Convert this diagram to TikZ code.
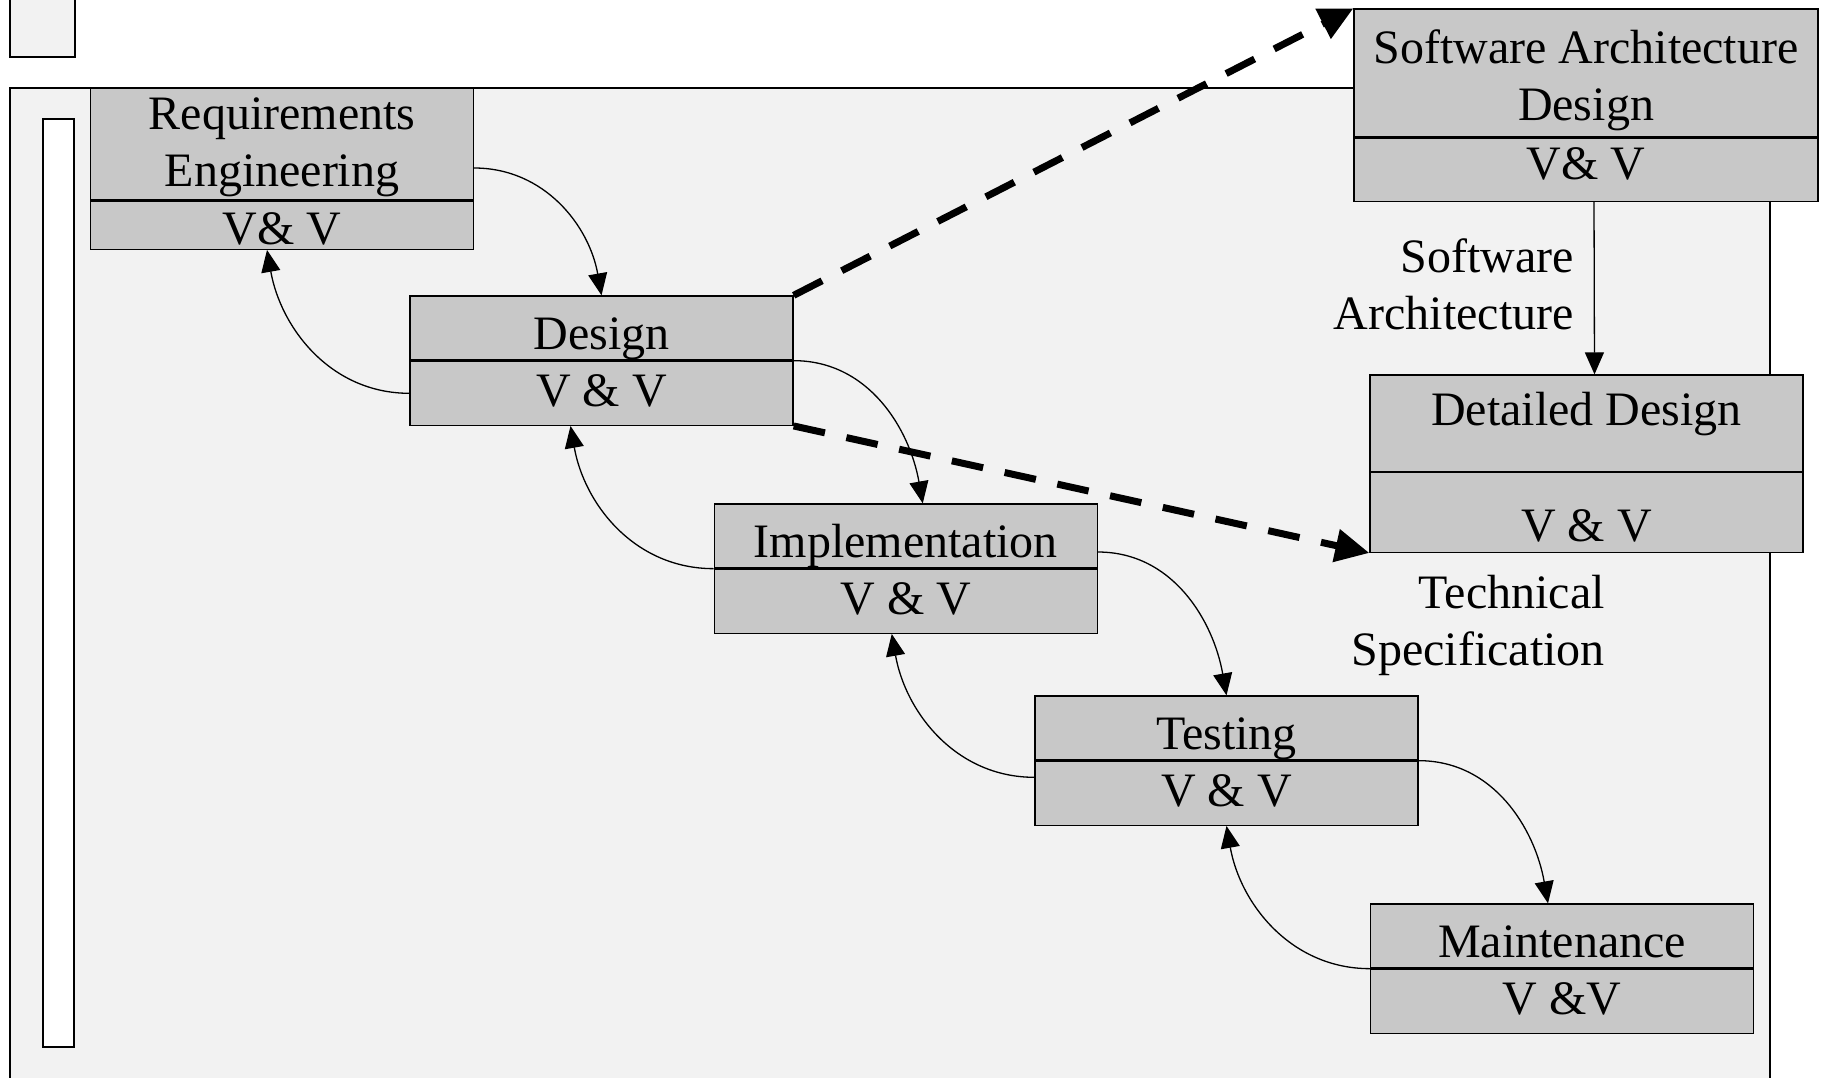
\documentclass[tikz,border=0pt]{standalone}
\usepackage{fontspec}
\setmainfont{Liberation Serif}
\usetikzlibrary{arrows.meta,positioning}

\definecolor{boxgray}{RGB}{200,200,200}
\definecolor{paper}{RGB}{242,242,242}

\begin{document}
\begin{tikzpicture}[x=1pt,y=1pt,font=\fontsize{48}{57}\selectfont,
  phase/.style={draw,fill=boxgray,line width=1.3pt,inner sep=0pt,align=center,
    minimum width=383pt,minimum height=64pt},
  oneline/.style={text height=27pt,text depth=0pt},
  topline/.style={text height=42pt,text depth=0pt},
  flow/.style={line width=1.3pt,-{Triangle[length=22pt,width=19pt]}},
  doc/.style={line width=7pt,dash pattern=on 32pt off 22pt,-{Triangle[length=34pt,width=32pt]}}]
  \useasboundingbox (0,0) rectangle (1821,-1077);
  \clip (0,0) rectangle (1821,-1077);
  \draw[line width=2pt,fill=paper] (10,10) rectangle (75,-57);
  \draw[line width=2pt,fill=paper] (10,-88) rectangle (1770,-1120);
  \draw[line width=2pt,fill=white] (43,-119) rectangle (74,-1047);

  \node[phase,minimum height=112pt] (req) at (282,-144) {\rule{0pt}{38pt}Requirements\\Engineering};
  \node[phase,oneline,text height=38pt,minimum height=48pt,below=0pt of req] (req_vv) {V\& V};
  \node[phase,topline] (design) at (601.5,-328) {Design};
  \node[phase,oneline,below=0pt of design] (design_vv) {V \& V};
  \node[phase,topline] (impl) at (905.75,-536) {Implementation};
  \node[phase,oneline,below=0pt of impl] (impl_vv) {V \& V};
  \node[phase,topline] (test) at (1226.5,-728) {Testing};
  \node[phase,oneline,below=0pt of test] (test_vv) {V \& V};
  \node[phase,topline] (maint) at (1562,-936) {Maintenance};
  \node[phase,oneline,below=0pt of maint] (maint_vv) {V \&V};
  \node[phase,minimum width=464pt,minimum height=128pt] (sad) at (1586,-73) {\rule{0pt}{49pt}Software Architecture\\Design};
  \node[phase,oneline,text height=20pt,minimum width=464pt,minimum height=63pt,below=0pt of sad] (sad_vv) {V\& V};
  \node[phase,oneline,text height=32pt,text depth=28pt,minimum width=433pt,minimum height=96.5pt] (dd) at (1586.5,-423.25) {Detailed Design};
  \node[phase,oneline,text height=58pt,minimum width=433pt,minimum height=79.5pt,below=0pt of dd] (dd_vv) {V \& V};
  \node[align=right,inner sep=0pt,anchor=east] (techspec) at (1605,-625) {Technical\\Specification};

  \path[flow]
  ([yshift=-24pt]req.east)     edge[out=0,in=100]   (design.north)
  (design.south east)          edge[out=0,in=100]   ([xshift=17pt]impl.north)
  ([yshift=-16pt]impl.east)    edge[out=0,in=100]   (test.north)
  (test.south east)            edge[out=0,in=100]   ([xshift=-14pt]maint.north)
  (design_vv.west)             edge[out=180,in=-80] ([xshift=-15pt]req_vv.south)
  (impl.south west)            edge[out=180,in=-80] ([xshift=-31pt]design_vv.south)
  ([yshift=16pt]test_vv.west)  edge[out=180,in=-80] ([xshift=-14pt]impl_vv.south)
  (maint.south west)           edge[out=180,in=-80] (test_vv.south)
  ([xshift=8pt]sad_vv.south)   edge node[pos=0.48,left=20pt,align=right,inner sep=0pt] (swarch) {Software\\Architecture} ([xshift=8pt]dd.north);
  \path[doc]
  (design.north east)    edge (sad.north west)
  (design_vv.south east) edge (dd_vv.south west);
\end{tikzpicture}
\end{document}
